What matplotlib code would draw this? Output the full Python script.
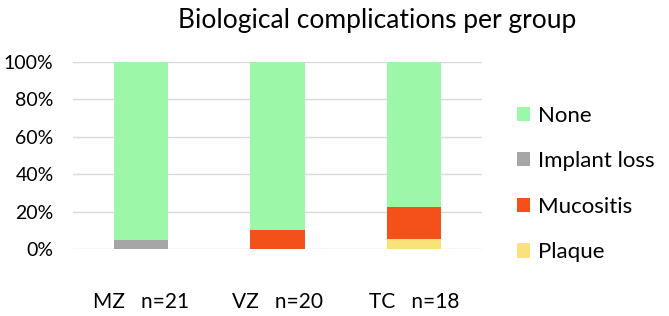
import numpy as np
from matplotlib import pyplot as plt

groups = ["MZ   n=21", "VZ   n=20", "TC   n=18"]
categories = ["Plaque", "Mucositis", "Implant loss", "None"]
plaque = [0.0, 0.0, 5.56]
mucositis = [0.0, 10.0, 16.67]
implant_loss = [4.76, 0.0, 0.0]
none = [95.24, 90.0, 77.77]
colors = ["#F9E27A", "#F4511A", "#A6A6A6", "#9CF8A8"]

plt.rcParams['font.family'] = ['Lato', 'DejaVu Sans']

fig = plt.figure(figsize=(6.69, 3.16), dpi=100)
ax = fig.add_axes([73/669, 1-249/316, 409/669, (249-62)/316])

x = np.arange(len(groups))
bottom = np.zeros(len(groups))
handles = []
for name, vals, c in zip(categories, [plaque, mucositis, implant_loss, none], colors):
    b = ax.bar(x, vals, 0.4, bottom=bottom, color=c, label=name, zorder=2)
    bottom += np.array(vals)
    handles.append(b)

ax.set_xlim(-0.5, 2.5)
ax.set_ylim(0, 100)
ax.set_yticks(range(0, 101, 20))
ax.set_yticklabels([f"{v}%" for v in range(0, 101, 20)], fontsize=14)
ax.set_xticks(x)
ax.set_xticklabels(groups, fontsize=15)
ax.tick_params(axis='x', length=0, pad=31)
ax.tick_params(axis='y', length=0, pad=14)
ax.grid(axis='y', color="#D9D9D9", linewidth=1, zorder=0)
for s in ax.spines.values():
    s.set_visible(False)

fig.text(0.564, 0.935, "Biological complications per group", ha='center', va='center', fontsize=19)

leg = fig.legend(handles[::-1], categories[::-1], loc='center left',
                 bbox_to_anchor=(517/669, 1-184/316), frameon=False,
                 borderaxespad=0, borderpad=0,
                 fontsize=16, handlelength=0.6, handleheight=0.6,
                 handletextpad=0.35, labelspacing=1.15)

fig.savefig("out.png", dpi=100)
